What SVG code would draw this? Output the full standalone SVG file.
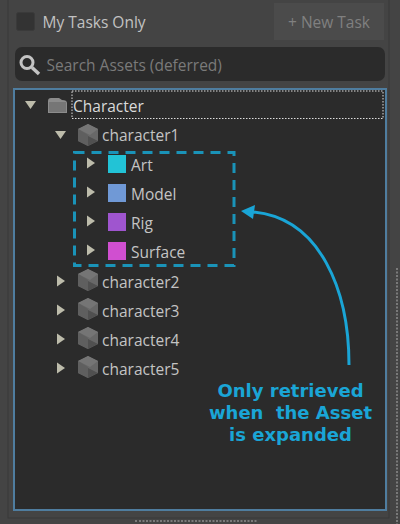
<svg xmlns="http://www.w3.org/2000/svg" width="400" height="524" viewBox="0 0 400 524">
<style>
text{font-family:"Open Sans","Noto Sans","Liberation Sans",sans-serif}
.t{font-size:15.500px;fill:#c4c4c4}
.tri{fill:#bdbcab}
.anno{font-family:"DejaVu Sans","Liberation Sans",sans-serif;font-size:18px;font-weight:700;fill:#1aa5d6;text-anchor:middle;white-space:pre}
</style>
<defs>
<g id="cube">
<path d="M0-11 10-6V6L0 11-10 6V-6Z" fill="#686868"/>
<path d="M0-11 10-6 2 0-10-6Z" fill="#757575"/>
<path d="M-10 5 0 1 10 6 0 11Z" fill="#505050"/>
<path d="M-10-6 0 0V11L-10 6Z" fill="#5f5f5f"/>
</g>
<path id="r" d="M0-5.500 8 0 0 5.500Z" class="tri"/>
</defs>
<rect width="400" height="524" fill="#444"/>
<rect x="8" y="-2" width="381" height="520" fill="none" stroke="#383838" stroke-width="1"/>
<g id="checkbox"><rect x="16.500" y="12.500" width="18" height="18" rx="2" fill="#333" stroke="#3a3a3a"/><text x="42.500" y="28" class="t" style="fill:#c2c2c2">My Tasks Only</text></g>
<g id="new-task"><rect x="274" y="3" width="110" height="37" fill="#4b4b4b"/><text x="329" y="28" class="t" text-anchor="middle" style="fill:#808080">+ New Task</text></g>
<g id="search"><rect x="15" y="47" width="370" height="34" rx="7" fill="#2b2b2b"/>
<circle cx="27" cy="62.500" r="6" fill="none" stroke="#c4c4c4" stroke-width="3"/><path d="M32 67.500 39 74" stroke="#c4c4c4" stroke-width="3.500"/>
<text x="46.500" y="71" class="t" style="fill:#7a7a7a">Search Assets (deferred)</text></g>
<g id="tree-panel"><rect x="14" y="89" width="372" height="421" fill="#2b2b2b" stroke="#4f7d9f" stroke-width="2"/></g>
<g id="character"><path d="M25 101H36L30.500 109Z" class="tri"/>
<path d="M48 101Q48 98 51 98H59L62 100Q67 100 67 103V113H48Z" fill="#8c8c8c"/><rect x="49" y="102" width="17" height="10" fill="#767676"/>
<rect x="72" y="91" width="311" height="27.500" fill="none" stroke="#ddd" stroke-dasharray="1.500 1.500"/>
<text x="73" y="112" class="t" style="fill:#dadada">Character</text></g>
<g id="character1"><path d="M55 131H66L60.500 139Z" class="tri"/><use href="#cube" x="88" y="135"/><text x="102" y="141" class="t">character1</text></g>
<g id="art"><use href="#r" x="87" y="163"/><rect x="108" y="155" width="18" height="18" fill="#22c3d6"/><text x="131" y="171" class="t">Art</text></g>
<g id="model"><use href="#r" x="87" y="192"/><rect x="108" y="184" width="18" height="18" fill="#7099d6"/><text x="131" y="200" class="t">Model</text></g>
<g id="rig"><use href="#r" x="87" y="221"/><rect x="108" y="213" width="18" height="18" fill="#9f55cf"/><text x="131" y="229" class="t">Rig</text></g>
<g id="surface"><use href="#r" x="87" y="250"/><rect x="108" y="242" width="18" height="18" fill="#d04fd0"/><text x="131" y="258" class="t">Surface</text></g>
<g id="character2"><use href="#r" x="57" y="281"/><use href="#cube" x="88" y="280"/><text x="102" y="288" class="t">character2</text></g>
<g id="character3"><use href="#r" x="57" y="310"/><use href="#cube" x="88" y="309"/><text x="102" y="317" class="t">character3</text></g>
<g id="character4"><use href="#r" x="57" y="339"/><use href="#cube" x="88" y="338"/><text x="102" y="346" class="t">character4</text></g>
<g id="character5"><use href="#r" x="57" y="368"/><use href="#cube" x="88" y="367"/><text x="102" y="375" class="t">character5</text></g>
<g id="grips" fill="#7a7a7a">
<path d="M135 520h2v2h-2zM139 520h2v2h-2zM142.500 520h2v2h-2zM146 520h2v2h-2zM149.500 520h2v2h-2zM153 520h2v2h-2zM156.500 520h2v2h-2zM160 520h2v2h-2zM163.500 520h2v2h-2zM167 520h2v2h-2zM170.500 520h2v2h-2zM174 520h2v2h-2zM177.500 520h2v2h-2zM181 520h2v2h-2zM184.500 520h2v2h-2zM188 520h2v2h-2zM191.500 520h2v2h-2zM195 520h2v2h-2zM198.500 520h2v2h-2zM202 520h2v2h-2zM205.500 520h2v2h-2zM209 520h2v2h-2zM212.500 520h2v2h-2zM216 520h2v2h-2zM219.500 520h2v2h-2zM223 520h2v2h-2zM226.500 520h2v2h-2zM230 520h2v2h-2zM233.500 520h2v2h-2zM237 520h2v2h-2zM240.500 520h2v2h-2zM244 520h2v2h-2zM247.500 520h2v2h-2zM251 520h2v2h-2zM254.500 520h2v2h-2z"/>
</g>
<line x1="397" y1="268" x2="397" y2="524" stroke="#7a7a7a" stroke-width="2" stroke-dasharray="2 1.500"/>
<g id="connectors">
<rect x="74.500" y="152.500" width="159.500" height="113" fill="none" stroke="#1a93b8" stroke-width="3" stroke-dasharray="10 7"/>
<path d="M349 365C349 290 320 218 253 212" fill="none" stroke="#1aa5d6" stroke-width="3"/>
<path d="M241 211 255 205 253 219Z" fill="#1aa5d6"/>
</g>
<g id="annotation">
<text x="290.500" y="397" class="anno">Only retrieved</text>
<text x="290.500" y="419" class="anno">when  the Asset</text>
<text x="290.500" y="441" class="anno">is expanded</text>
</g>
</svg>
